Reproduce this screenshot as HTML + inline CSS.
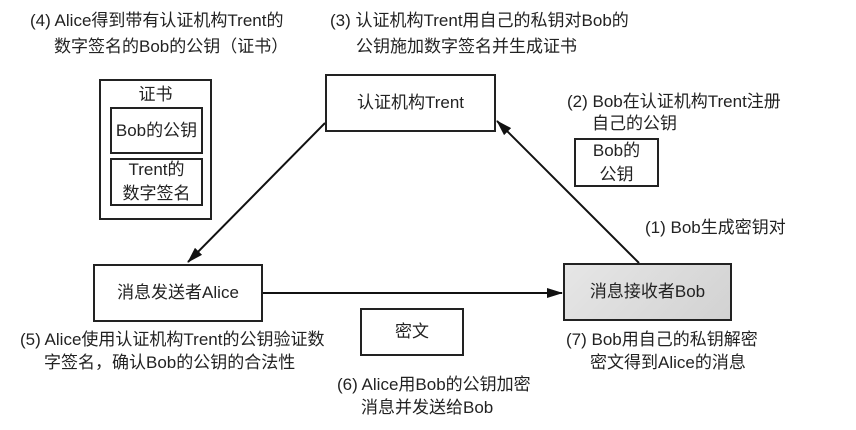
<!DOCTYPE html>
<html><head><meta charset="utf-8"><style>
html,body{margin:0;padding:0;background:#fff}
body{width:856px;height:430px;position:relative;overflow:hidden;font-family:"Liberation Sans","Noto Sans CJK SC",sans-serif;color:#222}
.t{position:absolute;font-size:17px;line-height:24px;white-space:nowrap}
.b{position:absolute;border:2px solid #222;box-sizing:border-box;display:flex;align-items:center;justify-content:center;text-align:center;font-size:17px;line-height:24px}
</style></head><body>
<svg width="856" height="430" style="position:absolute;left:0;top:0">
<defs><marker id="m" markerWidth="16" markerHeight="10" refX="15" refY="5" orient="auto" markerUnits="userSpaceOnUse"><path d="M0,0 L16,5 L0,10 z" fill="#111"/></marker></defs>
<line x1="325" y1="123" x2="188" y2="262" stroke="#111" stroke-width="2" marker-end="url(#m)"/>
<line x1="639" y1="263" x2="497" y2="121" stroke="#111" stroke-width="2" marker-end="url(#m)"/>
<line x1="262" y1="293" x2="562" y2="293" stroke="#111" stroke-width="2" marker-end="url(#m)"/>
</svg>
<div class="t" style="left:30px;top:9px">(4) Alice得到带有认证机构Trent的</div>
<div class="t" style="left:54px;top:35px">数字签名的Bob的公钥（证书）</div>
<div class="t" style="left:330px;top:9px">(3) 认证机构Trent用自己的私钥对Bob的</div>
<div class="t" style="left:356px;top:35px">公钥施加数字签名并生成证书</div>
<div class="b" style="left:325px;top:74px;width:171px;height:58px">认证机构Trent</div>
<div class="b" style="left:99px;top:79px;width:113px;height:141px;align-items:flex-start;padding-top:2px">证书</div>
<div class="b" style="left:110px;top:107px;width:93px;height:47px">Bob的公钥</div>
<div class="b" style="left:110px;top:158px;width:93px;height:48px">Trent的<br>数字签名</div>
<div class="t" style="left:567px;top:90px">(2) Bob在认证机构Trent注册</div>
<div class="t" style="left:592px;top:112px">自己的公钥</div>
<div class="b" style="left:574px;top:138px;width:85px;height:49px">Bob的<br>公钥</div>
<div class="t" style="left:645px;top:216px">(1) Bob生成密钥对</div>
<div class="b" style="left:93px;top:264px;width:170px;height:58px">消息发送者Alice</div>
<div class="b" style="left:563px;top:263px;width:169px;height:58px;background:linear-gradient(135deg,#e6e6e6,#d2d2d2)">消息接收者Bob</div>
<div class="b" style="left:360px;top:308px;width:104px;height:48px">密文</div>
<div class="t" style="left:20px;top:328px">(5) Alice使用认证机构Trent的公钥验证数</div>
<div class="t" style="left:44px;top:351px">字签名，确认Bob的公钥的合法性</div>
<div class="t" style="left:337px;top:373px">(6) Alice用Bob的公钥加密</div>
<div class="t" style="left:361px;top:396px">消息并发送给Bob</div>
<div class="t" style="left:566px;top:328px">(7) Bob用自己的私钥解密</div>
<div class="t" style="left:590px;top:351px">密文得到Alice的消息</div>
</body></html>
